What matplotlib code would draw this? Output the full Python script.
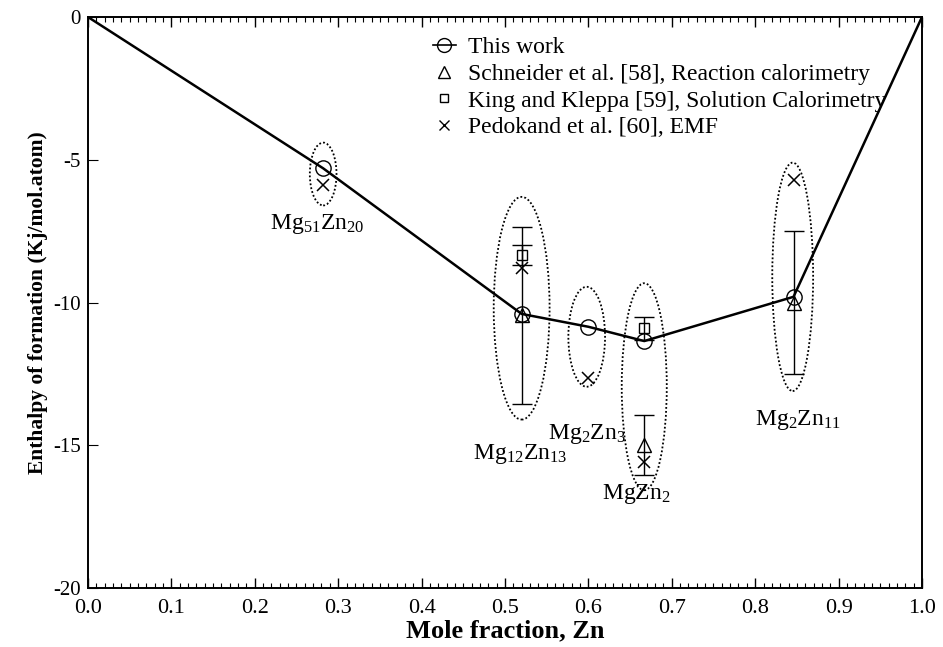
import numpy as np
import matplotlib
matplotlib.use("Agg")
import matplotlib.pyplot as plt
from matplotlib.patches import Ellipse
from matplotlib.ticker import MultipleLocator, FormatStrFormatter

plt.rcParams["font.family"] = ["Liberation Serif", "DejaVu Serif"]
plt.rcParams["mathtext.fontset"] = "custom"
plt.rcParams["mathtext.rm"] = "Liberation Serif"
plt.rcParams["mathtext.it"] = "Liberation Serif:italic"

# -------------------------------
# Data
# -------------------------------
# This work (calculated line)
x_work = [0.0, 0.282, 0.52, 0.60, 0.667, 0.846, 1.0]
h_work = [0.0, -5.3, -10.4, -10.85, -11.35, -9.8, 0.0]

# Schneider et al. [58], reaction calorimetry
x_sch = [0.52, 0.667, 0.846]
h_sch = [-10.45, -15.0, -10.0]
e_sch = [3.1, 1.05, 2.5]

# King and Kleppa [59], solution calorimetry
x_king = [0.52, 0.667]
h_king = [-8.35, -10.9]
e_king = [0.35, 0.4]

# Pedokand et al. [60], EMF
x_emf = [0.282, 0.52, 0.60, 0.667, 0.846]
h_emf = [-5.9, -8.8, -12.65, -15.6, -5.7]

# phase labels
phases = ["Mg$_{51}$Zn$_{20}$", "Mg$_{12}$Zn$_{13}$", "Mg$_{2}$Zn$_{3}$",
          "MgZn$_{2}$", "Mg$_{2}$Zn$_{11}$"]
label_x = [0.275, 0.518, 0.598, 0.658, 0.851]
label_y = [-7.25, -15.3, -14.6, -16.7, -14.1]

# dotted ellipses grouping each phase
ell_x = [0.282, 0.52, 0.598, 0.667, 0.845]
ell_y = [-5.5, -10.2, -11.2, -12.95, -9.1]
ell_w = [0.032, 0.067, 0.044, 0.054, 0.049]
ell_h = [2.2, 7.8, 3.5, 7.25, 8.0]

# -------------------------------
# Plot
# -------------------------------
fig = plt.figure(figsize=(9.43, 6.47), dpi=100)
ax = fig.add_axes([0.0933, 0.0912, 0.8844, 0.8825])

ax.plot(x_work, h_work, color="black", lw=1.8, zorder=3)
ax.plot(x_work[1:-1], h_work[1:-1], ls="none", marker="o", ms=11,
        mfc="none", mec="black", mew=1.0, zorder=4)

ax.errorbar(x_sch, h_sch, yerr=e_sch, fmt="^", ms=10, mfc="none",
            mec="black", mew=1.0, ecolor="black", elinewidth=1.0,
            capsize=7, capthick=1.0, zorder=4)
ax.errorbar(x_king, h_king, yerr=e_king, fmt="s", ms=7, mfc="none",
            mec="black", mew=1.0, ecolor="black", elinewidth=1.0,
            capsize=7, capthick=1.0, zorder=4)
ax.plot(x_emf, h_emf, ls="none", marker="x", ms=9, mec="black",
        mew=1.1, zorder=4)

for cx, cy, w, h in zip(ell_x, ell_y, ell_w, ell_h):
    ax.add_patch(Ellipse((cx, cy), w, h, fill=False, ls=(0, (1, 1.2)),
                         lw=1.3, ec="black", zorder=2))

for name, tx, ty in zip(phases, label_x, label_y):
    ax.text(tx, ty, name, ha="center", va="center", fontsize=17)

# legend (no frame)
h1, = ax.plot([], [], color="black", lw=1.2, marker="o", ms=10,
              mfc="none", mec="black")
h2, = ax.plot([], [], ls="none", marker="^", ms=8, mfc="none", mec="black")
h3, = ax.plot([], [], ls="none", marker="s", ms=6, mfc="none", mec="black")
h4, = ax.plot([], [], ls="none", marker="x", ms=7, mec="black")
ax.legend([h1, h2, h3, h4],
          ["This work", "Schneider et al. [58], Reaction calorimetry",
           "King and Kleppa [59], Solution Calorimetry",
           "Pedokand et al. [60], EMF"],
          loc="upper left", bbox_to_anchor=(0.402, 0.982), frameon=False,
          fontsize=17, handlelength=1.0, handletextpad=0.5,
          labelspacing=0.22, borderaxespad=0)

ax.set_xlim(0, 1.0)
ax.set_ylim(-20, 0)
ax.xaxis.set_major_locator(MultipleLocator(0.1))
ax.xaxis.set_minor_locator(MultipleLocator(0.01))
ax.xaxis.set_major_formatter(FormatStrFormatter("%.1f"))
ax.tick_params(axis="x", which="both", direction="in", top=True,
               labelsize=16, pad=8)
ax.tick_params(axis="x", which="major", length=7, width=1)
ax.tick_params(axis="x", which="minor", length=3.5, width=0.8)
ax.tick_params(axis="y", which="major", direction="in", length=7,
               labelsize=15, right=False, pad=5)
ax.set_yticks([0, -5, -10, -15, -20])
ax.set_yticklabels(["0", "-5", "-10", "-15", "-20"])
for s in ax.spines.values():
    s.set_linewidth(1.4)

ax.set_xlabel("Mole fraction, Zn", fontsize=19, fontweight="bold", labelpad=1)
ax.set_ylabel("Enthalpy of formation (Kj/mol.atom)", fontsize=15.5,
              fontweight="bold", labelpad=4)

fig.savefig("out.png", dpi=100)
